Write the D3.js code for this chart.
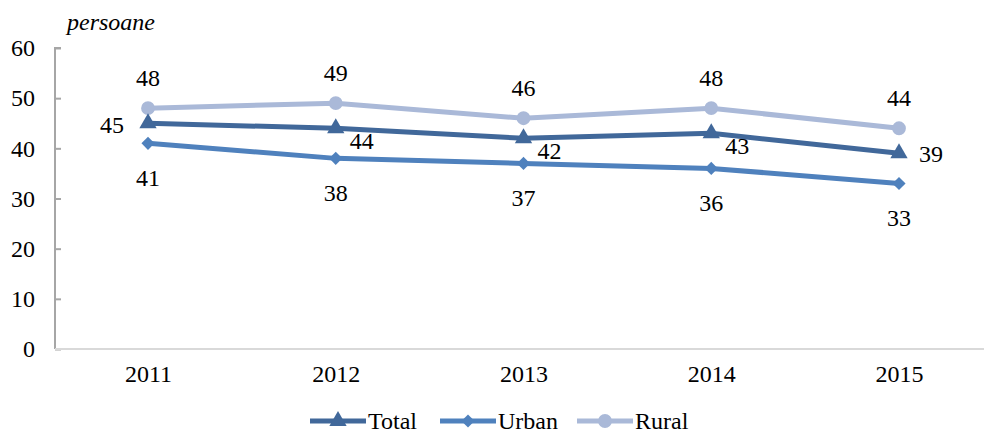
<!DOCTYPE html>
<meta charset="utf-8">
<style>
    body { margin: 0; background: #fff; }
    svg text { font-family: "Liberation Serif"; fill: #000; }
</style>
<body>
<script src="https://d3js.org/d3.v7.min.js"></script>
<script>
// data
var years = ["2011", "2012", "2013", "2014", "2015"];
var total = [45, 44, 42, 43, 39];
var urban = [41, 38, 37, 36, 33];
var rural = [48, 49, 46, 48, 44];
var yTicks = [0, 10, 20, 30, 40, 50, 60];

var W = 984, H = 434;
var FONT = "Liberation Serif";
var FS = 24;

var svg = d3.select("body").append("svg")
    .attr("width", W)
    .attr("height", H);

// scales
var x = d3.scalePoint().domain(years).range([148, 899]);
var y = d3.scaleLinear().domain([0, 60]).range([349, 48]);

// y axis
var yAxis = svg.append("g")
    .attr("transform", "translate(55,0)")
    .call(d3.axisRight(y).tickValues(yTicks).tickSize(6));
yAxis.attr("font-family", FONT).attr("font-size", FS);
yAxis.select(".domain").attr("stroke", "#a6a6a6").attr("stroke-width", 2)
    .attr("d", "M6," + y(60) + "H0V" + y(0));
yAxis.selectAll(".tick line").attr("stroke", "#a6a6a6").attr("stroke-width", 2);
yAxis.selectAll(".tick text").attr("x", -20).attr("text-anchor", "end").attr("dy", "0.32em");

// x axis
var xAxis = svg.append("g")
    .attr("transform", "translate(0," + y(0) + ")")
    .call(d3.axisBottom(x).tickSize(0).tickPadding(16));
xAxis.attr("font-family", FONT).attr("font-size", FS);
xAxis.select(".domain").attr("stroke", "#d9d9d9").attr("stroke-width", 2)
    .attr("d", "M55,0H984");

// series
var series = [
    { name: "Total", vals: total, color: "#41689a", sym: d3.symbolTriangle, size: 130 },
    { name: "Urban", vals: urban, color: "#4f81bd", sym: d3.symbolDiamond2, size: 110 },
    { name: "Rural", vals: rural, color: "#aab9d8", sym: d3.symbolCircle, size: 150 }
];

var line = d3.line()
    .x(function (d, i) { return x(years[i]); })
    .y(function (d) { return y(d); });

// rural behind, then total, then urban
[series[2], series[0], series[1]].forEach(function (s) {
    svg.append("path")
        .datum(s.vals)
        .attr("fill", "none")
        .attr("stroke", s.color)
        .attr("stroke-width", 5)
        .attr("d", line);
    svg.selectAll(null)
        .data(s.vals)
        .enter().append("path")
        .attr("d", d3.symbol().type(s.sym).size(s.size))
        .attr("fill", s.color)
        .attr("transform", function (d, i) {
            return "translate(" + x(years[i]) + "," + y(d) + ")";
        });
});

// data labels
function addLabels(vals, dx, dy) {
    svg.selectAll(null)
        .data(vals)
        .enter().append("text")
        .attr("font-family", FONT)
        .attr("font-size", FS)
        .attr("text-anchor", "middle")
        .attr("dy", "0.35em")
        .attr("x", function (d, i) { return x(years[i]) + (typeof dx === "function" ? dx(i) : dx); })
        .attr("y", function (d, i) { return y(d) + (typeof dy === "function" ? dy(i) : dy); })
        .text(function (d) { return d; });
}
addLabels(rural, 0, -31);
addLabels(urban, 0, 34);
addLabels(total,
    function (i) { return i === 0 ? -36 : (i === 4 ? 32 : 26); },
    function (i) { return i === 0 ? 1 : (i === 4 ? 0 : 12); });

// unit label
svg.append("text")
    .attr("x", 67).attr("y", 30)
    .attr("font-family", FONT)
    .attr("font-size", FS)
    .attr("font-style", "italic")
    .text("persoane");

// legend
var legendItems = [
    { s: series[0], x: 310 },
    { s: series[1], x: 440 },
    { s: series[2], x: 577 }
];
var lg = svg.selectAll(".legend")
    .data(legendItems)
    .enter().append("g")
    .attr("class", "legend")
    .attr("transform", function (d) { return "translate(" + d.x + ",421)"; });
lg.append("line")
    .attr("x1", 0).attr("x2", 56)
    .attr("stroke", function (d) { return d.s.color; })
    .attr("stroke-width", 5);
lg.append("path")
    .attr("transform", "translate(28,0)")
    .attr("d", function (d) { return d3.symbol().type(d.s.sym).size(d.s.size)(); })
    .attr("fill", function (d) { return d.s.color; });
lg.append("text")
    .attr("x", 58)
    .attr("dy", "0.35em")
    .attr("font-family", FONT)
    .attr("font-size", FS)
    .text(function (d) { return d.s.name; });
</script>
</body>
